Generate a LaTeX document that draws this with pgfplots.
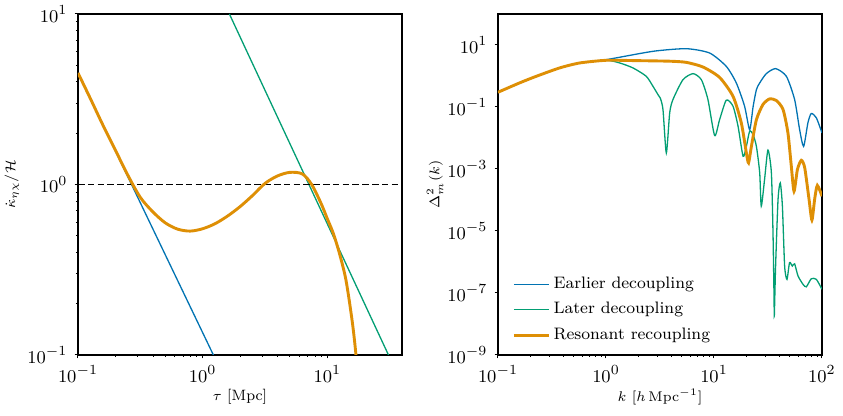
\documentclass[border=0pt]{standalone}
\usepackage{pgfplots}
\pgfplotsset{compat=1.18}

\definecolor{cbblue}{HTML}{0173B2}
\definecolor{cbgreen}{HTML}{029E73}
\definecolor{cborange}{HTML}{DE8F05}

\pgfplotsset{
  panel/.style={
    scale only axis,
    width=162pt, height=170.5pt,
    axis line style={line width=0.6pt},
    tick align=outside,
    xtick pos=bottom, ytick pos=left,
    major tick length=1.75pt, minor tick length=1pt,
    tick style={line width=0.5pt, black},
    tick label style={font=\fontsize{9.5}{11}\selectfont},
    label style={font=\fontsize{7.5}{9}\selectfont},
    x label style={at={(axis description cs:0.5,-0.123)}, anchor=center},
  },
}

\begin{document}
\begin{tikzpicture}
\useasboundingbox (-39pt,-30.5pt) rectangle (382.5pt,177.5pt);

% left: interaction rate over Hubble rate
\begin{loglogaxis}[panel,
  at={(0pt,0pt)}, anchor=south west,
  xmin=0.1, xmax=39.8, ymin=0.1, ymax=10,
  xtick={0.1,1,10}, ytick={0.1,1,10},
  xlabel={$\tau$ [Mpc]},
  ylabel={$\dot{\kappa}_{\eta\chi}/\mathcal{H}$},
  y label style={at={(axis description cs:-0.204,0.5)}, anchor=center},
]
\addplot[cbblue, line width=0.65pt] coordinates {(0.1,4.51) (1.22,0.1)};
\addplot[cbgreen, line width=0.65pt] coordinates {(1.64,10) (31,0.1)};
\addplot[black, line width=0.75pt, dash pattern=on 3.3pt off 1.6pt] coordinates {(0.1,1) (39.8,1)};
\addplot[cborange, line width=1.45pt, smooth] coordinates {
  (0.1,4.51) (0.126,3.18) (0.158,2.24) (0.2,1.585) (0.251,1.135)
  (0.316,0.841) (0.398,0.692) (0.501,0.596) (0.631,0.547) (0.794,0.533)
  (1.0,0.550) (1.259,0.589) (1.585,0.653) (1.995,0.741) (2.512,0.861)
  (3.162,1.014) (3.981,1.122) (5.012,1.178) (6.31,1.153) (7.5,1.0)
  (8.91,0.776) (10,0.631) (11.22,0.513) (12.59,0.389) (14.13,0.275)
  (15.85,0.158) (17.0,0.1) (17.8,0.063)
};
\end{loglogaxis}

% right: matter power spectrum
\begin{loglogaxis}[panel,
  at={(210pt,0pt)}, anchor=south west,
  xmin=0.1, xmax=100, ymin=1e-9, ymax=100,
  xtick={0.1,1,10,100},
  ytick={1e-9,1e-7,1e-5,1e-3,1e-1,10},
  minor ytick={},
  xlabel={$k\ [h\,\mathrm{Mpc}^{-1}]$},
  ylabel={$\Delta^2_m(k)$},
  y label style={at={(axis description cs:-0.194,0.5)}, anchor=center},
  legend style={draw=none, fill=none, at={(0.025,0.012)}, anchor=south west,
    font=\fontsize{8.3}{10}\selectfont, row sep=1.5pt},
  legend cell align=left,
]
\addplot[cbblue, line width=0.65pt, smooth, tension=0.4] coordinates {
  (0.1,0.299) (0.158,0.596) (0.226,0.977) (0.372,1.82) (0.570,2.63)
  (1.007,3.37) (2.72,6.25) (5.55,7.59) (9.12,5.50) (13.0,2.04)
  (16.1,0.596) (19.2,0.106) (21.4,0.0186) (23.0,0.1) (24.7,0.363)
  (26.5,0.596) (30.5,1.19) (37.2,1.73) (46.8,0.977) (55.8,0.174)
  (62.1,0.0186) (67.6,0.00537) (74.1,0.0309) (79.6,0.0617) (88.7,0.0447)
  (100,0.0145)
};
\addlegendentry{Earlier decoupling}
\addplot[cbgreen, line width=0.65pt, smooth, tension=0.4] coordinates {
  (0.1,0.299) (0.158,0.596) (0.226,0.977) (0.372,1.82) (0.570,2.63)
  (1.007,3.21) (1.34,2.63) (1.778,1.82) (2.36,0.977) (2.72,0.468)
  (3.03,0.251) (3.18,0.195) (3.37,0.0832) (3.62,0.00331) (3.89,0.0646)
  (4.17,0.174) (5.16,0.759) (6.40,1.19) (7.64,0.759) (8.79,0.174)
  (10.14,0.0120) (11.27,0.0389) (13.0,0.166) (15.0,0.106) (16.7,0.0240)
  (18.6,0.00257) (19.95,0.00537) (21.4,0.0166) (23.0,0.0129) (24.7,0.00537)
  (26.5,7.59e-4) (27.4,6.31e-5) (29.4,4.57e-4) (31.6,0.00407) (34.0,7.59e-4)
  (35.2,8.71e-6) (36.0,6.31e-8) (36.2,1.82e-8) (37.2,7.41e-7) (39.2,1.05e-4)
  (41.1,3.55e-4) (43.0,6.31e-5) (45.1,7.41e-7) (47.4,2.75e-7) (50.1,9.55e-7)
  (53.1,7.41e-7) (55.8,8.71e-7) (60.0,3.55e-7) (66.7,1.91e-7) (71.6,1.58e-7)
  (79.6,2.88e-7) (88.7,2.75e-7) (100,1.32e-7)
};
\addlegendentry{Later decoupling}
\addplot[cborange, line width=1.45pt, smooth, tension=0.4] coordinates {
  (0.1,0.299) (0.158,0.596) (0.226,0.977) (0.372,1.82) (0.570,2.63)
  (1.007,3.21) (1.905,3.13) (3.89,3.0) (5.55,2.75) (7.91,1.95)
  (11.27,0.9) (15.0,0.222) (17.9,0.0309) (19.95,0.00331) (20.9,0.00158)
  (22.2,0.00537) (24.7,0.0389) (28.4,0.120) (32.7,0.182) (37.8,0.162)
  (43.6,0.0832) (48.4,0.0145) (52.0,0.00123) (55.1,1.91e-4) (59.2,9.55e-4)
  (64.4,1.91e-3) (69.2,1.10e-3) (75.9,1.05e-4) (80.7,2.24e-5) (85.5,1.05e-4)
  (90.6,2.95e-4) (100,1.32e-4)
};
\addlegendentry{Resonant recoupling}
\end{loglogaxis}
\end{tikzpicture}
\end{document}
